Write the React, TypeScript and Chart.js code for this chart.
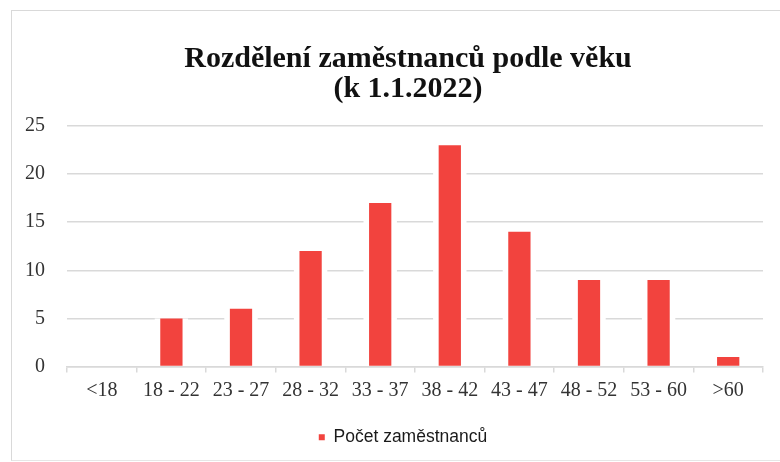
import React, { useEffect, useRef } from "react";
import { Chart, registerables } from "chart.js";

Chart.register(...registerables);

const categories = ["<18", "18 - 22", "23 - 27", "28 - 32", "33 - 37", "38 - 42", "43 - 47", "48 - 52", "53 - 60", ">60"];
const employees = [0, 5, 6, 12, 17, 23, 14, 9, 9, 1];
const seriesLabel = "Počet zaměstnanců";
const titleLines = ["Rozdělení zaměstnanců podle věku", "(k 1.1.2022)"];
const yTicks = [0, 5, 10, 15, 20, 25];

const legendShift = {
  id: "legendShift",
  afterLayout(chart: any) {
    if (chart.legend) chart.legend.left += 40;
  },
};

export default function App() {
  const ref = useRef<HTMLCanvasElement | null>(null);
  useEffect(() => {
    if (!ref.current) return;
    const chart = new Chart(ref.current, {
      type: "bar",
      data: {
        labels: categories,
        datasets: [
          {
            label: seriesLabel,
            data: employees,
            backgroundColor: "#F2433E",
            barPercentage: 0.32,
            categoryPercentage: 1,
            grouped: false,
            order: 0,
          },
          {
            label: "halo",
            data: employees,
            backgroundColor: "#ffffff",
            barPercentage: 0.48,
            categoryPercentage: 1,
            grouped: false,
            order: 1,
          },
        ],
      },
      plugins: [legendShift],
      options: {
        animation: false,
        responsive: false,
        maintainAspectRatio: false,
        layout: { padding: { left: 3, right: 17, top: 126, bottom: 6 } },
        plugins: {
          title: { display: false },
          legend: {
            position: "bottom",
            labels: {
              filter: (item) => item.text !== "halo",
              boxWidth: 6,
              boxHeight: 6,
              color: "#1a1a1a",
              font: { family: "'Liberation Sans', sans-serif", size: 17.5 },
              padding: 10,
            },
          },
          tooltip: { enabled: false },
        },
        scales: {
          x: {
            z: 1,
            afterFit: (axis) => {
              axis.height += 10;
            },
            grid: {
              display: true,
              drawOnChartArea: false,
              drawTicks: true,
              tickLength: 6,
              color: "#d9d9d9",
              lineWidth: 1.5,
              offset: true,
            },
            border: { display: true, color: "#d9d9d9", width: 1.5 },
            ticks: {
              color: "#333333",
              font: { family: "'Liberation Serif', serif", size: 20 },
              padding: 6,
              maxRotation: 0,
              autoSkip: false,
            },
          },
          y: {
            min: 0,
            max: 25,
            afterBuildTicks: (axis) => {
              axis.ticks = yTicks.map((v) => ({ value: v }));
            },
            grid: { color: "#d9d9d9", lineWidth: 1.5, drawTicks: false },
            border: { display: false },
            ticks: {
              color: "#333333",
              font: { family: "'Liberation Serif', serif", size: 20 },
              padding: 22,
            },
          },
        },
      },
    });
    return () => chart.destroy();
  }, []);
  return (
    <div style={{ position: "absolute", left: 0, top: 0, width: 780, height: 462, background: "#fff" }}>
      <div
        style={{
          position: "absolute",
          left: 11,
          top: 10,
          width: 780,
          height: 449,
          borderLeft: "1.5px solid #d9d9d9",
          borderTop: "1.5px solid #d9d9d9",
          borderBottom: "1.5px solid #e6e6e6",
        }}
      />
      <canvas ref={ref} width={780} height={462} style={{ position: "absolute", left: 0, top: 0 }} />
      <div
        style={{
          position: "absolute",
          left: 36,
          top: 42,
          width: 744,
          textAlign: "center",
          fontFamily: "'Liberation Serif', serif",
          fontWeight: "bold",
          fontSize: 30,
          lineHeight: "30px",
          color: "#111111",
        }}
      >
        {titleLines.map((t) => (
          <div key={t}>{t}</div>
        ))}
      </div>
    </div>
  );
}
